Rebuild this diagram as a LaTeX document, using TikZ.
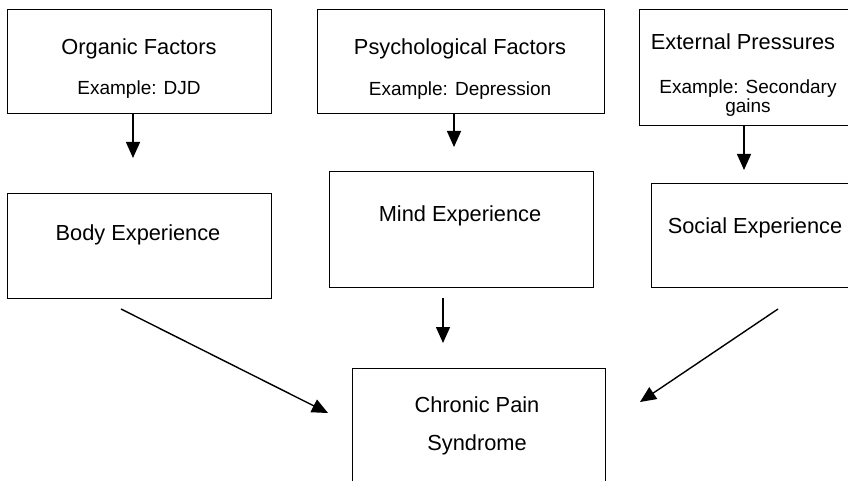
\documentclass[tikz,border=0pt]{standalone}
\usepackage{fontspec}
\setmainfont{Liberation Sans}
\usetikzlibrary{arrows.meta}
\begin{document}
\begin{tikzpicture}[x=1pt,y=-1pt,
  box/.style={draw, line width=1.4pt, inner sep=0pt, anchor=north west},
  title/.style={font=\fontsize{21.8}{24}\selectfont, inner sep=0pt, anchor=base},
  note/.style={font=\fontsize{19}{19}\selectfont, inner sep=0pt, anchor=base},
  arr/.style={line width=1.4pt, -{Triangle[length=16pt,width=14pt]}}]
% page frame
\fill[white] (0,0) rectangle (848,481);
\clip (0,0) rectangle (848,481);

% top row: causes
\node[box, minimum width=264pt, minimum height=104pt] (org) at (7,9) {};
\node[box, minimum width=287pt, minimum height=104pt] (psy) at (317,9) {};
\node[box, minimum width=212pt, minimum height=116pt] (ext) at (639,9) {};

\node[title] (orgT) at (139,55) {Organic Factors};
\node[note]  (orgE) at (139,95) {Example: DJD};
\node[title] (psyT) at (460,55) {Psychological Factors};
\node[note]  (psyE) at (460,96) {Example: Depression};
\node[title] (extT) at (743,50) {External Pressures};
\node[note]  (extE) at (748,94) {Example: Secondary};
\node[note]  (extG) at (748,113) {gains};

% middle row: experiences
\node[box, minimum width=264pt, minimum height=105pt] (body) at (7,193) {};
\node[box, minimum width=264pt, minimum height=116pt] (mind) at (329,171) {};
\node[box, minimum width=220pt, minimum height=104pt] (soc) at (651,183) {};

\node[title] (bodyT) at (138,240) {Body Experience};
\node[title] (mindT) at (460,221) {Mind Experience};
\node[title] (socT)  at (755,233) {Social Experience};

% bottom: outcome
\node[box, minimum width=253pt, minimum height=140pt] (cps) at (352,368) {};
\node[title] (cpsA) at (477,412) {Chronic Pain};
\node[title] (cpsB) at (477,450) {Syndrome};

% arrow end points
\coordinate (a1) at (133,158);
\coordinate (a2) at (454,147);
\coordinate (a3) at (744,170);
\coordinate (b1s) at (121,309);
\coordinate (b1e) at (328,413);
\coordinate (b2s) at (443,298);
\coordinate (b2e) at (443,343);
\coordinate (b3s) at (778,309);
\coordinate (b3e) at (640,402);

% connectors
\draw[arr] (org.south -| a1) -- (a1);
\draw[arr] (psy.south -| a2) -- (a2);
\draw[arr] (ext.south -| a3) -- (a3);
\draw[arr] (b1s) -- (b1e);
\draw[arr] (b2s) -- (b2e);
\draw[arr] (b3s) -- (b3e);
\end{tikzpicture}
\end{document}
